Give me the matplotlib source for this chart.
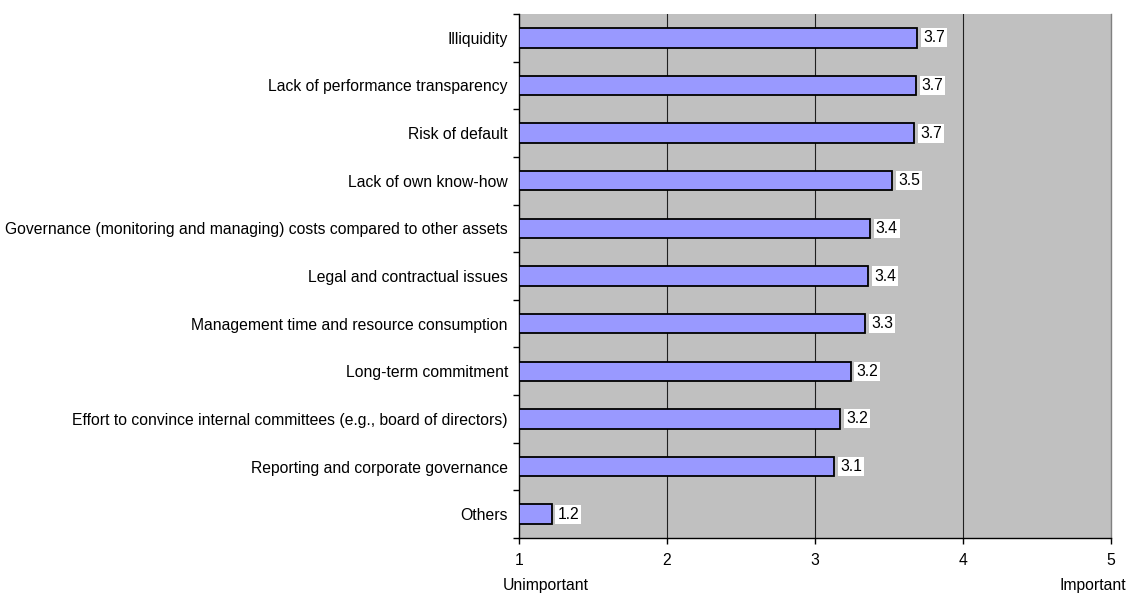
import matplotlib
matplotlib.use("Agg")
import matplotlib.pyplot as plt
import numpy as np

categories = [
    "Illiquidity",
    "Lack of performance transparency",
    "Risk of default",
    "Lack of own know-how",
    "Governance (monitoring and managing) costs compared to other assets",
    "Legal and contractual issues",
    "Management time and resource consumption",
    "Long-term commitment",
    "Effort to convince internal committees (e.g., board of directors)",
    "Reporting and corporate governance",
    "Others",
]
values = [3.69, 3.68, 3.67, 3.52, 3.37, 3.36, 3.34, 3.24, 3.17, 3.13, 1.22]
x_ticks = [1, 2, 3, 4, 5]

plt.rcParams['font.family'] = ['Liberation Sans', 'DejaVu Sans']
plt.rcParams['font.size'] = 11.3

fig = plt.figure(figsize=(11.31, 5.95), dpi=100)
ax = fig.add_axes([519/1131, 1-538/595, (1111-519)/1131, (538-14)/595])
ax.set_facecolor('#C0C0C0')

n = len(categories)
y = np.arange(n)
ax.barh(y, [v - 1 for v in values], left=1, height=0.41, color='#9999FF',
        edgecolor='black', linewidth=1.3, zorder=3)

for yi, v in zip(y, values):
    ax.text(v + 0.04, yi, f"{v:.1f}", va='center', ha='left', fontsize=11.3,
            bbox=dict(facecolor='white', edgecolor='none', pad=1.5), zorder=4)

ax.set_xlim(1, 5)
ax.set_ylim(n - 0.5, -0.5)
ax.set_xticks(x_ticks)
ax.set_xticklabels([str(t) for t in x_ticks])
for t in x_ticks[1:-1]:
    ax.axvline(t, color='#202020', linewidth=0.8, zorder=1)

ax.set_yticks(y)
ax.set_yticklabels(categories)
ax.set_yticks(np.arange(-0.5, n, 1.0), minor=True)
ax.tick_params(axis='y', which='major', length=0, pad=8)
ax.tick_params(axis='y', which='minor', length=4, width=1, direction='out')
ax.tick_params(axis='x', length=4, width=1, direction='out', pad=7)

ax.spines['top'].set_visible(False)
ax.spines['right'].set_color('#808080')
ax.spines['right'].set_linewidth(1)
ax.spines['left'].set_linewidth(1)
ax.spines['bottom'].set_linewidth(1)

trans = ax.get_xaxis_transform()
ax.text(0.89, -0.09, "Unimportant", transform=trans, ha='left', va='center', fontsize=11.3)
ax.text(5.10, -0.09, "Important", transform=trans, ha='right', va='center', fontsize=11.3, clip_on=False)

fig.savefig("out.png", dpi=100)
